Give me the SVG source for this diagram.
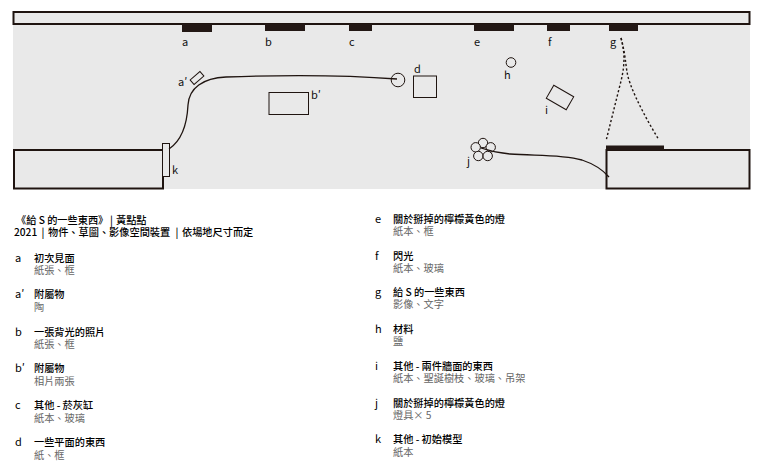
<svg xmlns="http://www.w3.org/2000/svg" width="764" height="476" viewBox="0 0 764 476">
<style>
text{font-family:"Noto Sans CJK TC","Noto Sans",sans-serif;font-size:10.2px;fill:#000}
.m{font-size:11px;fill:#111}
.l{font-size:11px}
.h{font-weight:500}
.s{fill:#666}
.o{fill:#e9e9e9;stroke:#1f1410;stroke-width:1}
.w{fill:#e9e9e9;stroke:#1f1410;stroke-width:2}
.b{fill:#231815;stroke:none}
.c{fill:none;stroke:#1f1410;stroke-width:1.3}
.d{fill:none;stroke:#1f1410;stroke-width:1.4;stroke-dasharray:2.2 2.2}
</style>
<rect x="13" y="24" width="737" height="165" fill="#e9e9e9"/>
<rect id="wall" class="w" x="13.500" y="12" width="736" height="12"/>
<g id="a"><rect class="b" x="182" y="24" width="30" height="8"/><text class="m" x="182" y="46">a</text></g>
<g id="a-prime"><rect class="o" x="-6.500" y="-3" width="13" height="6" transform="translate(197 78) rotate(-41)"/><text class="m" x="178" y="86">a′</text></g>
<g id="b"><rect class="b" x="265" y="24" width="40" height="7"/><text class="m" x="265" y="46">b</text></g>
<g id="b-prime"><rect class="o" x="269" y="92.500" width="39.500" height="22"/><text class="m" x="311" y="99">b′</text></g>
<g id="c"><rect class="b" x="349" y="24" width="23" height="7"/><text class="m" x="349" y="46">c</text></g>
<g id="d"><rect class="o" x="413.500" y="76" width="23" height="21.500"/><text class="m" x="414" y="73">d</text></g>
<g id="e"><rect class="b" x="474" y="24" width="40" height="7"/><text class="m" x="474" y="46">e</text></g>
<g id="f"><rect class="b" x="547" y="24" width="23" height="7"/><text class="m" x="548" y="46">f</text></g>
<g id="g"><rect class="b" x="609" y="24" width="29" height="7"/><text class="m" x="610" y="46">g</text></g>
<g id="h"><circle class="o" cx="511" cy="62.500" r="4.800"/><text class="m" x="504" y="79">h</text></g>
<g id="i"><rect class="o" x="-11.500" y="-7.500" width="23" height="15" transform="translate(560 97.500) rotate(30)"/><text class="m" x="545" y="114">i</text></g>
<g id="lamp"><circle class="o" cx="398" cy="80" r="6.800"/></g>
<g id="j">
<circle class="o" cx="483" cy="143" r="4.700"/><circle class="o" cx="475.700" cy="147.300" r="4.700"/><circle class="o" cx="490.700" cy="147.300" r="4.700"/><circle class="o" cx="478.300" cy="156" r="4.700"/><circle class="o" cx="487.700" cy="156" r="4.700"/>
<text class="m" x="467" y="165">j</text></g>
<g id="left-room"><rect class="w" x="14" y="150" width="149" height="38.500"/></g>
<g id="k"><rect class="o" x="162.500" y="143.500" width="7" height="33"/><text class="m" x="172" y="174">k</text></g>
<g id="right-room"><rect class="w" x="606.500" y="150" width="143" height="38.500"/><rect class="b" x="606" y="145.500" width="58" height="4.500"/></g>
<g id="connectors">
<path class="c" d="M169 149C181 141 187 125 188 105C189 88 203 78 226 77C280 75 345 75 397 79"/>
<path class="d" d="M621 38C626 56 624 70 620 85C615 105 610 125 606 141"/>
<path class="d" d="M621 38C627 60 625 70 630 83C636 100 648 122 659 140"/>
<path class="c" d="M481 148C490 151 498 153 510 154C535 156 560 154 582 160C594 164 602 169 609 177"/>
</g>
<g id="legend">
<text class="h" x="16" y="224">《給 S 的一些東西》<tspan x="110">|</tspan><tspan x="116">黃點點</tspan></text>
<text class="h" x="14" y="236">2021<tspan x="41.500">|</tspan><tspan x="48">物件、草圖、影像空間裝置</tspan><tspan x="175.500">|</tspan><tspan x="182">依場地尺寸而定</tspan></text>
<text class="l" x="15" y="262">a</text><text class="h" x="34" y="262">初次見面</text><text class="s" x="34" y="274">紙張、框</text>
<text class="l" x="15" y="298">a′</text><text class="h" x="34" y="298">附屬物</text><text class="s" x="34" y="311">陶</text>
<text class="l" x="15" y="336">b</text><text class="h" x="34" y="336">一張背光的照片</text><text class="s" x="34" y="348">紙張、框</text>
<text class="l" x="15" y="372">b′</text><text class="h" x="34" y="372">附屬物</text><text class="s" x="34" y="385">相片兩張</text>
<text class="l" x="15" y="409">c</text><text class="h" x="34" y="409">其他 - 菸灰缸</text><text class="s" x="34" y="422">紙本、玻璃</text>
<text class="l" x="15" y="446">d</text><text class="h" x="34" y="446">一些平面的東西</text><text class="s" x="34" y="459">紙、框</text>
<text class="l" x="375" y="223">e</text><text class="h" x="393" y="223">關於掰掉的檸檬黃色的燈</text><text class="s" x="393" y="235">紙本、框</text>
<text class="l" x="375" y="260">f</text><text class="h" x="393" y="260">閃光</text><text class="s" x="393" y="272">紙本、玻璃</text>
<text class="l" x="375" y="296">g</text><text class="h" x="393" y="296">給 S 的一些東西</text><text class="s" x="393" y="308">影像、文字</text>
<text class="l" x="375" y="333">h</text><text class="h" x="393" y="333">材料</text><text class="s" x="393" y="345">鹽</text>
<text class="l" x="375" y="370">i</text><text class="h" x="393" y="370">其他 - 兩件牆面的東西</text><text class="s" x="393" y="382">紙本、聖誕樹枝、玻璃、吊架</text>
<text class="l" x="375" y="407">j</text><text class="h" x="393" y="407">關於掰掉的檸檬黃色的燈</text><text class="s" x="393" y="419">燈具× 5</text>
<text class="l" x="375" y="443">k</text><text class="h" x="393" y="443">其他 - 初始模型</text><text class="s" x="393" y="456">紙本</text>
</g>
</svg>
